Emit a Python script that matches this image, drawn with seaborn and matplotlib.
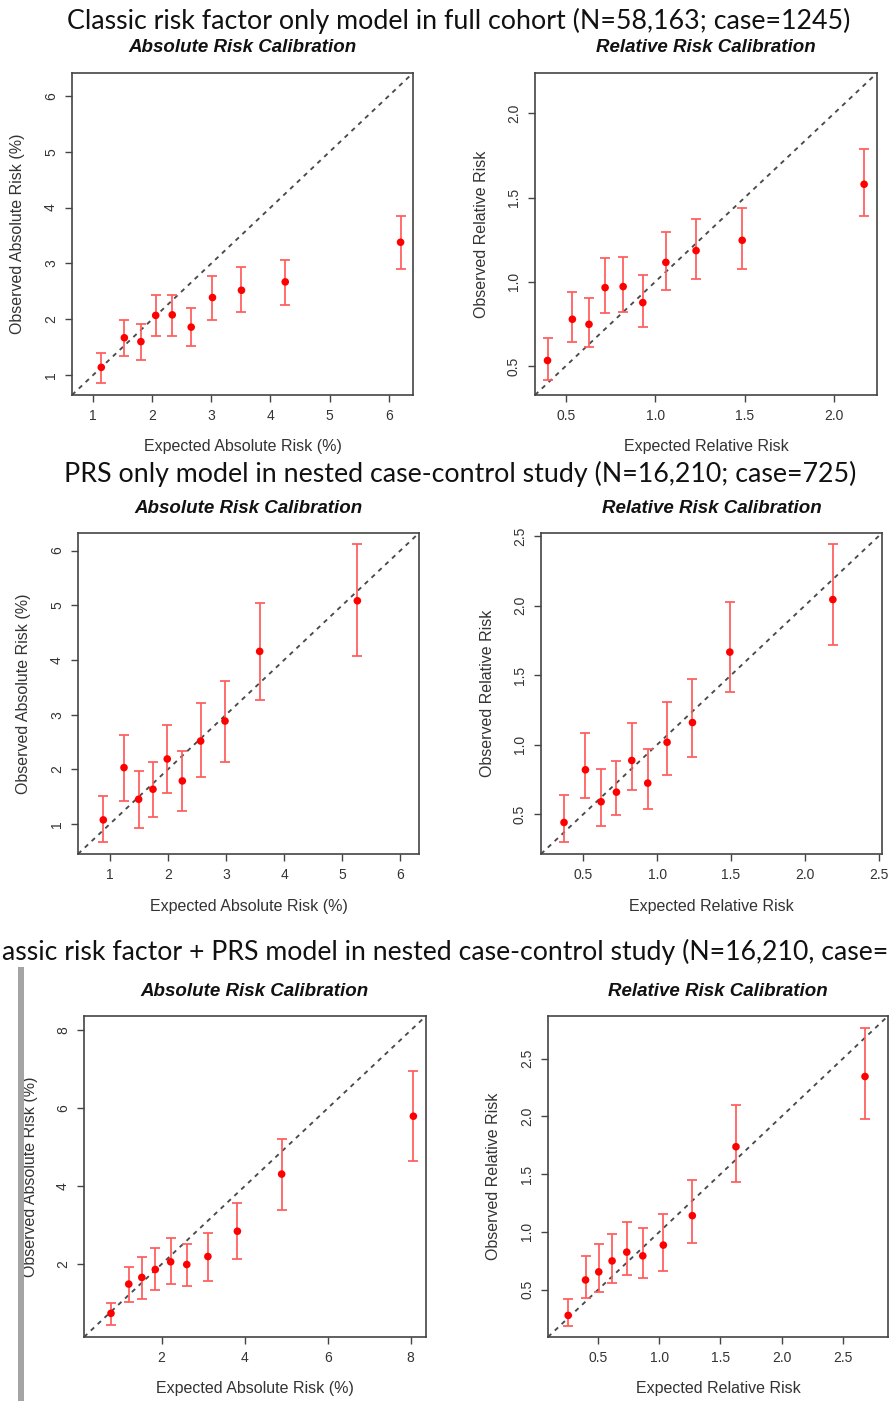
import numpy as np
import matplotlib
matplotlib.use("Agg")
import matplotlib.pyplot as plt
import seaborn as sns
import pandas as pd
from matplotlib.patches import Rectangle

# ---------------- data ----------------
row_titles = [
    "Classic risk factor only model in full cohort (N=58,163; case=1245)",
    "PRS only model in nested case-control study (N=16,210; case=725)",
    "assic risk factor + PRS model in nested case-control study (N=16,210, case=",
]
panel_titles = ["Absolute Risk Calibration", "Relative Risk Calibration"]
x_labels = ["Expected Absolute Risk (%)", "Expected Relative Risk"]
y_labels = ["Observed Absolute Risk (%)", "Observed Relative Risk"]

# Row 1 - absolute
r1a_exp = [1.14, 1.53, 1.81, 2.06, 2.34, 2.66, 3.02, 3.51, 4.25, 6.20]
r1a_obs = [1.14, 1.67, 1.60, 2.07, 2.08, 1.86, 2.39, 2.52, 2.67, 3.38]
r1a_lo  = [0.86, 1.34, 1.27, 1.70, 1.70, 1.52, 1.98, 2.13, 2.25, 2.90]
r1a_hi  = [1.39, 1.99, 1.91, 2.43, 2.43, 2.21, 2.77, 2.93, 3.07, 3.85]
# Row 1 - relative
r1r_exp = [0.397, 0.536, 0.629, 0.719, 0.820, 0.930, 1.059, 1.228, 1.486, 2.168]
r1r_obs = [0.532, 0.777, 0.747, 0.965, 0.971, 0.876, 1.115, 1.185, 1.246, 1.579]
r1r_lo  = [0.417, 0.642, 0.614, 0.817, 0.821, 0.733, 0.950, 1.016, 1.078, 1.393]
r1r_hi  = [0.668, 0.941, 0.903, 1.141, 1.149, 1.040, 1.295, 1.373, 1.440, 1.790]
# Row 2 - absolute
r2a_exp = [0.891, 1.247, 1.499, 1.745, 1.991, 2.250, 2.565, 2.984, 3.580, 5.260]
r2a_obs = [1.079, 2.034, 1.456, 1.639, 2.192, 1.791, 2.520, 2.885, 4.157, 5.082]
r2a_lo  = [0.672, 1.432, 0.927, 1.140, 1.578, 1.250, 1.864, 2.144, 3.264, 4.070]
r2a_hi  = [1.511, 2.636, 1.967, 2.137, 2.807, 2.345, 3.214, 3.616, 5.040, 6.110]
# Row 2 - relative
r2r_exp = [0.369, 0.514, 0.620, 0.724, 0.828, 0.936, 1.067, 1.239, 1.492, 2.190]
r2r_obs = [0.440, 0.819, 0.589, 0.658, 0.886, 0.723, 1.017, 1.159, 1.666, 2.044]
r2r_lo  = [0.301, 0.617, 0.416, 0.493, 0.670, 0.538, 0.785, 0.910, 1.377, 1.717]
r2r_hi  = [0.634, 1.087, 0.826, 0.884, 1.154, 0.972, 1.309, 1.472, 2.026, 2.443]
# Row 3 - absolute
r3a_exp = [0.780, 1.208, 1.523, 1.847, 2.218, 2.606, 3.115, 3.826, 4.892, 8.066]
r3a_obs = [0.737, 1.488, 1.659, 1.863, 2.060, 1.991, 2.196, 2.845, 4.312, 5.797]
r3a_lo  = [0.439, 1.019, 1.113, 1.326, 1.480, 1.428, 1.573, 2.137, 3.399, 4.655]
r3a_hi  = [0.993, 1.932, 2.179, 2.410, 2.666, 2.529, 2.802, 3.570, 5.200, 6.959]
# Row 3 - relative
r3r_exp = [0.255, 0.397, 0.505, 0.614, 0.734, 0.865, 1.033, 1.270, 1.627, 2.682]
r3r_obs = [0.277, 0.584, 0.654, 0.749, 0.825, 0.793, 0.886, 1.141, 1.738, 2.346]
r3r_lo  = [0.187, 0.428, 0.480, 0.561, 0.628, 0.601, 0.664, 0.901, 1.433, 1.978]
r3r_hi  = [0.416, 0.793, 0.894, 0.981, 1.083, 1.036, 1.152, 1.446, 2.097, 2.767]

ticks_r1a = [1, 2, 3, 4, 5, 6]
ticks_r1r = [0.5, 1.0, 1.5, 2.0]
ticks_r2a = [1, 2, 3, 4, 5, 6]
ticks_r2r = [0.5, 1.0, 1.5, 2.0, 2.5]
ticks_r3a = [2, 4, 6, 8]
ticks_r3r = [0.5, 1.0, 1.5, 2.0, 2.5]

# ---------------- style ----------------
sns.set_style("ticks")
plt.rcParams['font.family'] = ['Liberation Sans', 'DejaVu Sans']

W, H = 890, 1401
DPI = 100
fig = plt.figure(figsize=(W / DPI, H / DPI), dpi=DPI)
PT = 72.0 / DPI  # points per pixel

FRAME = '#444444'
TXT = '#333333'

panels = [
    (r1a_exp, r1a_obs, r1a_lo, r1a_hi, ticks_r1a, (0.645, 6.41), (72, 73, 413, 395), 0, '{:g}', 54),
    (r1r_exp, r1r_obs, r1r_lo, r1r_hi, ticks_r1r, (0.327, 2.24), (535, 73, 877, 395), 1, '{:.1f}', 54),
    (r2a_exp, r2a_obs, r2a_lo, r2a_hi, ticks_r2a, (0.456, 6.32), (78, 533, 419, 854), 0, '{:g}', 54),
    (r2r_exp, r2r_obs, r2r_lo, r2r_hi, ticks_r2r, (0.213, 2.523), (541, 533, 882, 854), 1, '{:.1f}', 54),
    (r3a_exp, r3a_obs, r3a_lo, r3a_hi, ticks_r3a, (0.13, 8.37), (84, 1016, 426, 1337), 0, '{:g}', 53),
    (r3r_exp, r3r_obs, r3r_lo, r3r_hi, ticks_r3r, (0.09, 2.87), (548, 1016, 888, 1337), 1, '{:.1f}', 54),
]

for exp, obs, lo, hi, ticks, lims, box, kind, fmt, ylab_off in panels:
    x0, y0, x1, y1 = box
    w, h = x1 - x0, y1 - y0
    ax = fig.add_axes([x0 / W, 1 - y1 / H, w / W, h / H])
    df = pd.DataFrame({"exp": exp, "obs": obs, "lo": lo, "hi": hi})

    # diagonal reference line
    ax.plot(lims, lims, color='#4a4a4a', lw=1.35, ls=(0, (2.4, 2.6)), zorder=1)
    # confidence intervals
    ax.errorbar(df["exp"], df["obs"],
                yerr=[df["obs"] - df["lo"], df["hi"] - df["obs"]],
                fmt='none', ecolor='#ff5c5c', elinewidth=1.25,
                capsize=3.3, capthick=1.25, zorder=2)
    sns.scatterplot(data=df, x="exp", y="obs", ax=ax, color='#ff0000',
                    s=30, edgecolor='none', linewidth=0, zorder=3)

    ax.set_xlim(lims)
    ax.set_ylim(lims)
    ax.set_xticks(ticks)
    ax.set_yticks(ticks)
    ax.set_xticklabels([fmt.format(t) for t in ticks])
    ax.set_yticklabels([fmt.format(t) for t in ticks], rotation=90, va='center')

    for s in ax.spines.values():
        s.set_color(FRAME)
        s.set_linewidth(1.2)
    ax.tick_params(axis='both', direction='out', length=7 * PT, width=1.0,
                   color=FRAME, labelsize=10, labelcolor=TXT)
    ax.tick_params(axis='x', pad=7 * PT)
    ax.tick_params(axis='y', pad=7 * PT)

    ax.set_xlabel(x_labels[kind], fontsize=11.5, color=TXT)
    ax.set_ylabel(y_labels[kind], fontsize=11.5, color=TXT)
    ax.xaxis.set_label_coords(0.5, -52 / h)
    ax.xaxis.label.set_va('center')
    ax.yaxis.set_label_coords(-ylab_off / w, 0.5)
    ax.yaxis.label.set_va('center')

    ax.text(0.5, 1 + 25 / h, panel_titles[kind], transform=ax.transAxes,
            ha='center', va='center', fontsize=13.5, fontweight='bold',
            fontstyle='italic', color='#111111')

# row titles, sized to the widths seen in the reference
renderer = fig.canvas.get_renderer()
title_family = ['Lato', 'DejaVu Sans']


def fitted_size(text, target_px, base=19.0):
    probe = fig.text(0, 0, text, fontsize=base, family=title_family)
    wpx = probe.get_window_extent(renderer).width
    probe.remove()
    return base * target_px / wpx


sz = fitted_size(row_titles[0], 782)
tfont = dict(fontsize=sz, color='#111111', family=title_family)
fig.text(459 / W, 1 - 21 / H, row_titles[0], ha='center', va='center', **tfont)
fig.text(460 / W, 1 - 474 / H, row_titles[1], ha='center', va='center', **tfont)
sz3 = min(fitted_size(row_titles[2], 884), sz)
fig.text(2 / W, 1 - 952 / H, row_titles[2], ha='left', va='center',
         fontsize=sz3, color='#111111', family=title_family)

# grey vertical bar (screenshot edge) at the left of the third row
fig.patches.append(Rectangle((18 / W, 0), 6 / W, 1 - 967 / H, transform=fig.transFigure,
                             facecolor='#a4a4a4', edgecolor='none', zorder=0))

fig.savefig("out.png", dpi=DPI, facecolor='white')
